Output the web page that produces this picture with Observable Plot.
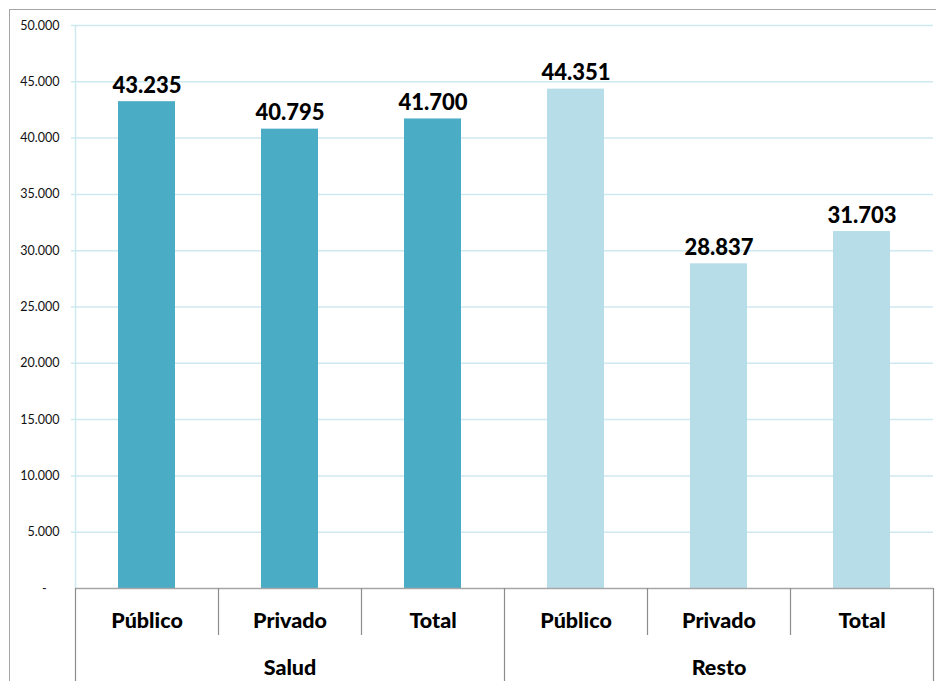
<!DOCTYPE html>
<html>
<head>
<meta charset="utf-8">
<script src="https://cdn.jsdelivr.net/npm/d3@7"></script>
<script src="https://cdn.jsdelivr.net/npm/@observablehq/plot@0.6"></script>
<style>
  html, body { margin: 0; padding: 0; background: #fff; overflow: hidden; }
  #wrap { position: relative; width: 936px; height: 681px; }
  #frame { position: absolute; left: 9px; top: 9px; width: 1000px; height: 1000px;
           border-left: 1.5px solid #a6a6a6; border-top: 1.5px solid #a6a6a6; pointer-events: none; }
</style>
</head>
<body>
<div id="wrap"><div id="frame"></div></div>
<script>
const groups = ["Salud", "Salud", "Salud", "Resto", "Resto", "Resto"];
const categories = ["Público", "Privado", "Total", "Público", "Privado", "Total"];
const values = [43235, 40795, 41700, 44351, 28837, 31703];
const yTicks = [0, 5000, 10000, 15000, 20000, 25000, 30000, 35000, 40000, 45000, 50000];
const groupNames = ["Salud", "Resto"];
const groupColors = ["#4BACC6", "#B7DEE8"];

const data = values.map((v, i) => ({key: groups[i] + "|" + categories[i], group: groups[i], cat: categories[i], value: v}));
const keys = data.map(d => d.key);
const loc = d3.formatLocale({thousands: ".", grouping: [3], decimal: ","});
const fmt = loc.format(",d");

const W = 936, H = 681, mL = 75, mR = 3, mT = 25, mB = 93;
const step = (W - mL - mR) / keys.length;
const frameH = H - mT - mB;
const font = "Lato, 'Open Sans', sans-serif";

const sepInner = keys.filter((k, i) => i % 3 !== 0);
const sepGroup = keys.filter((k, i) => i % 3 === 0);
const middleKeys = keys.filter((k, i) => i % 3 === 1);

const chart = Plot.plot({
  width: W, height: H,
  marginLeft: mL, marginRight: mR, marginTop: mT, marginBottom: mB,
  style: {fontFamily: font, background: "transparent"},
  x: {domain: keys, paddingInner: 0.6, paddingOuter: 0.3, axis: null},
  y: {domain: [0, 50000], ticks: yTicks, axis: null},
  color: {domain: groupNames, range: groupColors},
  marks: [
    Plot.gridY(yTicks.filter(t => t > 0), {stroke: "#cfe9f0", strokeOpacity: 1, strokeWidth: 1.5, insetLeft: -4}),
    Plot.ruleX([0], {x: () => keys[0], stroke: "#cfe9f0", strokeWidth: 1.5, dx: -step / 2}),
    Plot.axisY({ticks: yTicks, tickSize: 0, tickPadding: 16, tickFormat: d => d === 0 ? "-\u00a0\u00a0\u00a0\u00a0" : fmt(d),
                fontSize: 12.5, fill: "#111", label: null}),
    Plot.barY(data, {x: "key", y: "value", fill: "group"}),
    Plot.ruleY([0], {stroke: "#a6a6a6", strokeWidth: 1.5}),
    Plot.ruleX(sepInner, {x: d => d, dx: -step / 2, stroke: "#8c8c8c", strokeWidth: 1.2, insetTop: frameH, insetBottom: -47}),
    Plot.ruleX(sepGroup, {x: d => d, dx: -step / 2, stroke: "#8c8c8c", strokeWidth: 1.2, insetTop: frameH, insetBottom: -mB}),
    Plot.ruleX([keys[keys.length - 1]], {x: d => d, dx: step / 2, stroke: "#8c8c8c", strokeWidth: 1.2, insetTop: frameH, insetBottom: -mB}),
    Plot.text(data, {x: "key", y: "value", text: d => fmt(d.value), dy: -9, lineAnchor: "bottom",
                     fontSize: 22, fontWeight: 900, fill: "#000"}),
    Plot.text(data, {x: "key", text: "cat", frameAnchor: "bottom", dy: 33, lineAnchor: "middle",
                     fontSize: 21.5, fontWeight: 900, fill: "#000"}),
    Plot.text(middleKeys, {x: d => d, text: d => d.split("|")[0], frameAnchor: "bottom", dy: 80, lineAnchor: "middle",
                     fontSize: 21.5, fontWeight: 900, fill: "#000"})
  ]
});
chart.style.position = "absolute";
chart.style.left = "0";
chart.style.top = "0";
document.getElementById("wrap").appendChild(chart);
</script>
</body>
</html>
